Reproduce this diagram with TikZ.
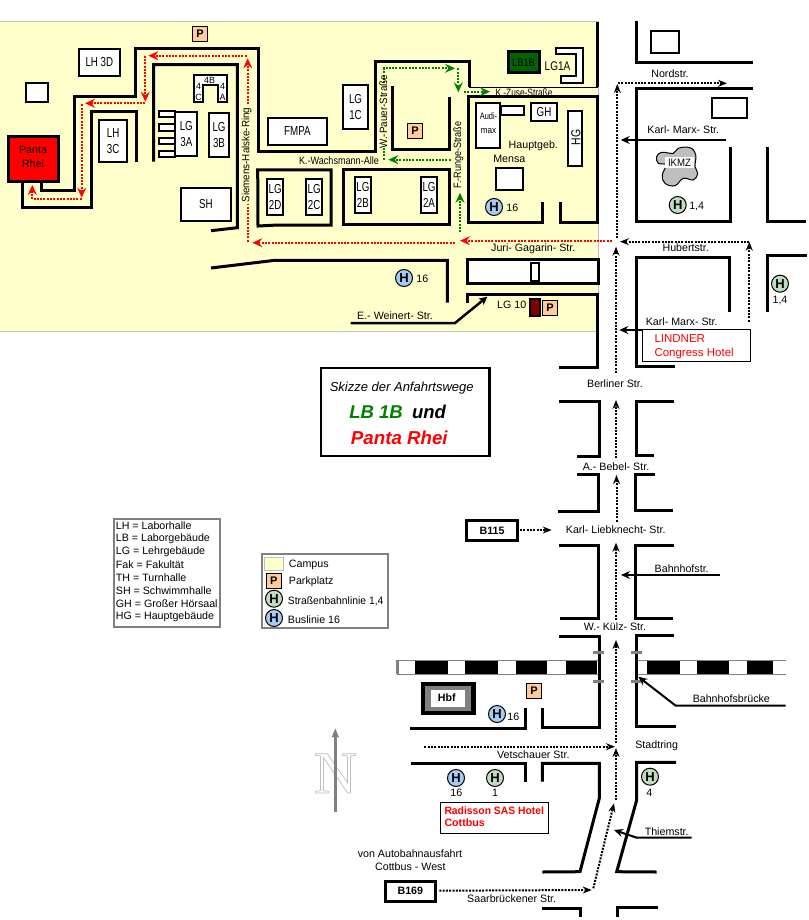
\documentclass[tikz,border=0pt]{standalone}
\usepackage{fontspec}
\usepackage{graphicx}
\setmainfont{Liberation Sans}
\newfontfamily\northfont{Liberation Serif}
\usetikzlibrary{arrows.meta}
\definecolor{campus}{HTML}{FFFFCC}
\definecolor{parkc}{HTML}{FFCC99}
\definecolor{tramc}{HTML}{C0DCC0}
\definecolor{busc}{HTML}{A6CAF0}
\definecolor{lbgreen}{HTML}{006400}
\definecolor{legendgrey}{HTML}{808080}
\definecolor{routegreen}{HTML}{008000}
\newcommand{\cnd}[2]{\scalebox{#1}[1]{#2}}
\newcommand{\upt}[2]{\rotatebox{90}{\scalebox{#1}[1]{#2}}}
\newcommand{\bldg}[6]{\draw[bldgline] ({#2+1},{#3+1}) rectangle ({#4-1},{#5-1}) node[midway,talltext] (#1) {#6};}
\tikzset{
  txt/.style={font=\fontsize{10.67}{13}\selectfont,inner sep=0pt},
  talltext/.style={font=\fontsize{13}{16}\selectfont,inner sep=0pt,align=center,xscale=.75,transform shape},
  road/.style={line width=3pt,draw=black,miter limit=10},
  bldgline/.style={line width=2pt,draw=black,fill=white},
  thinarrow/.style={line width=2pt,draw=black,-{Stealth[length=9pt,width=8pt,inset=3pt]}},
  redroute/.style={line width=2pt,draw=red,dash pattern=on 2pt off 1.3pt,-{Stealth[length=10pt,width=9pt,inset=3.5pt]}},
  greenroute/.style={line width=2pt,draw=routegreen,dash pattern=on 2pt off 1.3pt,-{Stealth[length=10pt,width=9pt,inset=3.5pt]}},
  blackroute/.style={line width=2pt,draw=black,dash pattern=on 2pt off 1.3pt,-{Stealth[length=9pt,width=7pt,inset=3pt]}},
  parkbox/.style={draw=black,line width=1pt,fill=parkc,minimum size=15pt,inner sep=0pt,font=\fontsize{11}{11}\selectfont\bfseries},
  tramstop/.style={circle,draw=black,line width=1pt,fill=tramc,minimum size=17pt,inner sep=0pt,font=\fontsize{13}{13}\selectfont\bfseries},
  busstop/.style={circle,draw=black,line width=1pt,fill=busc,minimum size=17pt,inner sep=0pt,font=\fontsize{13}{13}\selectfont\bfseries},
  legendbox/.style={draw=legendgrey,line width=2pt,fill=white},
  roadsign/.style={draw=black,line width=3pt,fill=white,inner sep=0pt,font=\fontsize{10.67}{13}\selectfont\bfseries},
  hotelbox/.style={draw=black,line width=1pt,fill=white},
  tick/.style={line width=2.5pt,draw=legendgrey}
}
\begin{document}
\begin{tikzpicture}[x=1pt,y=-1pt,every node/.append style={txt}]
\useasboundingbox (0,0) rectangle (808,920);
\fill[white] (0,0) rectangle (808,920);
% campus
\draw[draw=black!25,line width=1pt,fill=campus] (-2,22) rectangle (598,331);
% ---- campus roads
\draw[road] (22.7,183) -- (22.7,207) -- (91.7,207) -- (91.7,111.7) -- (136,111.7) -- (136,161.7);
\draw[road] (41.7,183) -- (41.7,190) -- (74.3,190) -- (74.3,96.3) -- (135.7,96.3) -- (135.7,48.3) -- (258.3,48.3) -- (258.3,152) -- (375,152) -- (375,62) -- (469,62) -- (469,87);
\draw[line width=1pt] (469,87.3) -- (598,87.3);
\draw[road] (153.7,161.7) -- (153.7,64.7) -- (237.3,64.7) -- (237.3,227.7) -- (211,230.7);
\draw[road] (392.3,86) -- (392.3,150) -- (449,150) -- (449,97);
\draw[road] (257.7,170) -- (331,170) -- (331,225) -- (278,225) -- (258,226) -- cycle;
\draw[road] (343,170) rectangle (449,224);
\draw[road] (597.7,22) -- (597.7,87);
\draw[road] (542,202.3) -- (542,222.3) -- (468.3,222.3) -- (468.3,96.7) -- (597.7,96.7) -- (597.7,222.3) -- (560,222.3) -- (560,202.3);
\draw[road] (211,268) -- (275,260.3) -- (447.3,260.3) -- (447.3,302.7);
\draw[road,fill=white] (467,259.3) rectangle (598,283.3);
\draw[line width=2pt,fill=white] (531,262.5) rectangle (539,280.5);
\draw[road] (467.7,302.7) -- (467.7,294) -- (597.3,294) -- (597.3,367.3) -- (559.3,367.3);
% ---- buildings
\draw[line width=3pt,fill=red] (8.5,136.5) rectangle (58,182);
\node[align=center,font=\fontsize{10.67}{14}\selectfont] (panta) at (33,157) {Panta\\Rhei};
\bldg{lh3d}{77.7}{47.7}{121}{77}{LH 3D}
\draw[bldgline] (26,82.7) rectangle (48.3,102.3);
\bldg{lh3c}{98}{118.7}{128.3}{163}{LH\\3C}
\foreach \a/\b in {111/116.7,124.3/131,137.7/144,150.7/156.7}{\draw[bldgline] (158.7,\a) rectangle (175,\b);}
\bldg{lg3a}{174.3}{111}{198.3}{157.3}{LG\\3A}
\bldg{lg3b}{208}{112}{230}{158.3}{LG\\3B}
\draw[bldgline] (193.7,75.3) -- (227.3,75.3) -- (227.3,102.3) -- (218.3,102.3) -- (218.3,85) -- (203.3,85) -- (203.3,102.3) -- (193.7,102.3) -- cycle;
\node[font=\fontsize{9}{9}\selectfont] (b4b) at (209.7,80) {4B};
\node[font=\fontsize{9}{9}\selectfont] (b4c) at (198.5,86.5) {4};
\node[font=\fontsize{9}{9}\selectfont] (b4cc) at (198.5,97) {C};
\node[font=\fontsize{9}{9}\selectfont] (b4a) at (222.5,86.5) {4};
\node[font=\fontsize{9}{9}\selectfont] (b4aa) at (222.5,97) {A};
\bldg{sh}{180}{187}{232}{221.7}{SH}
\bldg{fmpa}{266.7}{117}{328}{145.7}{FMPA}
\bldg{lg1c}{341.7}{84}{369.3}{130}{LG\\1C}
\bldg{lg2d}{266}{178}{284.3}{216}{LG\\2D}
\bldg{lg2c}{305}{178}{323.3}{216}{LG\\2C}
\bldg{lg2b}{353.7}{176}{372}{214}{LG\\2B}
\bldg{lg2a}{419.7}{176}{438.3}{214}{LG\\2A}
\draw[line width=3pt,draw=black,fill=lbgreen] (508,51.5) rectangle (539,72.5);
\node[font=\fontsize{11}{11}\selectfont] (lb1b) at (523.5,62.5) {\cnd{.85}{LB1B}};
\draw[bldgline] (556,47.7) -- (583,47.7) -- (583,83) -- (561,83) -- (561,76) -- (575.7,76) -- (575.7,54.3) -- (556,54.3) -- cycle;
\node[font=\fontsize{12.5}{13}\selectfont] (lg1a) at (557.5,65.7) {\cnd{.8}{LG1A}};
\draw[bldgline] (501,106) rectangle (524,115);
\draw[bldgline] (476,103.3) rectangle (500,148);
\node[align=center,font=\fontsize{9.5}{14.5}\selectfont] (audimax) at (488.5,123) {\cnd{.78}{Audi-}\\\cnd{.85}{max}};
\bldg{gh}{530}{102}{558}{121.7}{GH}
\draw[bldgline] (568,111) rectangle (582.3,166);
\node (hg) at (576,137.7) {\upt{.8}{\fontsize{13}{13}\selectfont HG}};
\draw[bldgline] (496,168) rectangle (523,189.7);
\node (hauptgeb) at (533.3,145.3) {Hauptgeb.};
\node (mensa) at (509.3,159) {Mensa};
\bldg{ikmzb}{650}{30}{680}{53.7}{}
\bldg{boxb}{710.7}{97}{748}{119}{}
% ---- right blocks
\draw[road] (636,21) -- (636,62.3) -- (753.3,62.3);
\draw[road] (753.3,88.3) -- (636,88.3) -- (636,221) -- (730.7,221) -- (730.7,146.7);
\draw[road] (767.7,147.3) -- (767.7,221) -- (806,221);
\draw[road] (806.7,255.7) -- (767.7,255.7) -- (767.7,311.7);
\draw[road] (729.3,312.3) -- (729.3,257.7) -- (636,257.7) -- (636,366) -- (674.7,366);
\draw[line width=1pt,fill=black!25] plot[smooth cycle,tension=.7] coordinates {(656.7,156.7) (661.7,152.3) (673.3,153.3) (678.3,148.3) (690,147.7) (695.7,155) (695,166.7) (697.7,173.3) (693.3,180) (683.3,178.3) (675,185.7) (665,183.3) (662.3,175) (666,165) (658.3,163.3)};
\node[fill=white,minimum width=29pt,minimum height=11pt] (ikmz) at (679.5,163) {\cnd{.9}{IKMZ}};
% ---- lower blocks
\draw[road] (559,401) -- (599,401) -- (599,456.7) -- (577.3,456.7);
\draw[road] (674,401) -- (636,401) -- (636,455.3) -- (654,455.3);
\draw[road] (577.3,474) -- (598.3,474) -- (598.3,511.3) -- (558.3,511.3);
\draw[road] (655,474) -- (635.3,474) -- (635.3,510.3) -- (673,510.3);
\draw[road] (559,545.3) -- (598.3,545.3) -- (598.3,618.3) -- (560,618.3);
\draw[road] (674,545) -- (635.3,545) -- (635.3,618.3) -- (673,618.3);
% railway
\draw[draw=legendgrey,line width=1pt,fill=white] (397,660) rectangle (598,674);
\draw[draw=legendgrey,line width=1pt] (637,660) -- (786,660);
\draw[draw=legendgrey,line width=1pt] (637,674) -- (786,674);
\fill[legendgrey] (396,660) rectangle (399,674);
\foreach \a/\b in {415/448.3,465/498.3,516/547.3,566/597}{\fill[black] (\a,660.5) rectangle (\b,673.5);}
\foreach \a/\b in {646.7/680,696.7/729.3,746.7/773.3}{\fill[black] (\a,660.5) rectangle (\b,673.5);}
\draw[road] (559.3,636.7) -- (599,636.7) -- (599,727.7) -- (542.3,727.7) -- (542.3,707.7);
\draw[road] (674,635.7) -- (636.7,635.7) -- (636.7,726.3) -- (675.7,726.3);
\draw[tick] (593.3,652.3) -- (604,652.3);
\draw[tick] (593.3,681.3) -- (604,681.3);
\draw[tick] (631,652.3) -- (641.7,652.3);
\draw[tick] (631,681.3) -- (641.7,681.3);
\draw[road] (410,728.3) -- (525.7,728.3) -- (525.7,708.3);
\draw[road] (411,763.3) -- (525,763.3) -- (525,781.7);
\draw[road] (542.3,781.7) -- (542.3,763.3) -- (599.3,763.3) -- (599.3,798.3) -- (580,871.7) -- (542.3,872);
\draw[road] (676,762.3) -- (636.7,762.3) -- (636.7,800) -- (616.7,871.7) -- (656.7,872);
\draw[road] (541.7,908) -- (580.7,908) -- (580.7,917);
\draw[road] (617.3,917) -- (617.3,907.3) -- (657.7,907.3);
% Hbf
\draw[line width=4.5pt,draw=black,fill=legendgrey] (423,684) rectangle (473.5,713);
\fill[white] (431,690) rectangle (465,706.7);
\node[font=\fontsize{10.67}{13}\selectfont\bfseries] (hbf) at (446.7,698) {Hbf};
% ---- solid arrows
\draw[line width=2.5pt,-{Stealth[length=8pt,width=8pt,inset=2pt]}] (350.7,323) -- (455,323) -- (487.3,296.7);
\draw[thinarrow] (726,140) -- (620.7,140);
\draw[thinarrow] (721.7,330) -- (619.3,330);
\draw[thinarrow] (720,575) -- (621,575);
\draw[thinarrow] (785.7,705.7) -- (675.7,705.7) -- (638.3,676.7);
\draw[thinarrow] (691.7,837.7) -- (636.7,837.7) -- (614,830);
% ---- red route
\draw[redroute] (612,240.7) -- (460,240.7);
\draw[redroute] (455,242.7) -- (252.3,242.7);
\draw[line width=2pt,draw=red,dash pattern=on 2pt off 1.3pt] (247.7,241.7) -- (247.7,204.3);
\draw[redroute] (247.7,104.3) -- (247.7,58.3);
\draw[redroute] (246.7,55.7) -- (148.3,55.7);
\draw[redroute] (145.3,55.7) -- (145.3,101.7);
\draw[redroute] (145.3,103.3) -- (85,103.3);
\draw[redroute] (81.7,104.3) -- (81.7,197.7);
\draw[redroute] (81.7,199.3) -- (32.3,199.3) -- (32.3,185);
% ---- green route
\draw[greenroute] (460,232.3) -- (460,192.7);
\draw[greenroute] (450.7,159.7) -- (388.3,159.7);
\draw[line width=2pt,draw=routegreen,dash pattern=on 2pt off 1.3pt] (384,159.7) -- (384,146.7);
\draw[greenroute] (384,83.3) -- (384,68.3) -- (455,68.3);
\draw[greenroute] (458.3,68.3) -- (458.3,92.3);
\draw[greenroute] (464,91.7) -- (490,91.7);
% ---- black routes
\draw[blackroute] (616,373) -- (616,246.7);
\draw[blackroute] (749.3,321.7) -- (749.3,241.7);
\draw[blackroute] (749.3,241.7) -- (620,241.7);
\draw[blackroute] (617.3,238) -- (617.3,84);
\draw[blackroute] (618,83.3) -- (727,83.3);
\draw[blackroute] (616,458.3) -- (616,400);
\draw[blackroute] (616.5,521.7) -- (616.5,475);
\draw[blackroute] (616,620) -- (616,542.7);
\draw[blackroute] (616,743.3) -- (616,640);
\draw[blackroute] (616,800) -- (616,748);
\draw[blackroute] (593.3,888.3) -- (614,803.3);
\draw[blackroute] (439.3,890.7) -- (591.7,890);
\draw[blackroute] (424.3,746.7) -- (615,746.7);
\draw[blackroute] (520,530) -- (551.7,530);
% ---- street labels
\node (siemens) at (246.7,155) {\upt{.92}{Siemens-Halske-Ring}};
\node (pauer) at (383.3,111.7) {\upt{.92}{W.-Pauer-Straße}};
\node (runge) at (458.3,155) {\upt{.85}{F.-Runge-Straße}};
\node (zuse) at (524,92.7) {\cnd{.78}{K.-Zuse-Straße}};
\node (wachs) at (339,161) {\cnd{.85}{K.-Wachsmann-Alle}};
\node (juri) at (533.3,248.3) {Juri- Gagarin- Str.};
\node (weinert) at (395,315.3) {E.- Weinert- Str.};
\node (lg10) at (511.7,305) {LG 10};
\draw[line width=2pt,fill=black!50!red] (529.7,298.7) rectangle (539.7,316.3);
\node (nord) at (670,73.3) {Nordstr.};
\node (kmarx1) at (683.3,130) {Karl- Marx- Str.};
\node (huber) at (685.7,248) {Hubertstr.};
\node (kmarx2) at (681.7,322) {Karl- Marx- Str.};
\node (berliner) at (615,384) {Berliner Str.};
\node (bebel) at (616,466.7) {A.- Bebel- Str.};
\node (liebk) at (615.7,530) {Karl- Liebknecht- Str.};
\node (bahnhofstr) at (681.7,568.3) {Bahnhofstr.};
\node (kuelz) at (615,627) {W.- Külz- Str.};
\node (bruecke) at (731.3,698.3) {Bahnhofsbrücke};
\node (stadtring) at (656.7,745.3) {Stadtring};
\node (vetsch) at (533.3,754.3) {Vetschauer Str.};
\node (thiem) at (666.7,831.3) {Thiemstr.};
\node (saar) at (511.7,898.3) {Saarbrückener Str.};
\node (vonab) at (410,853.3) {von Autobahnausfahrt};
\node (cbwest) at (410.3,867) {Cottbus - West};
% ---- stops and parking
\node[parkbox] (p1) at (200,33.7) {P};
\node[parkbox] (p2) at (415,130.7) {P};
\node[parkbox] (p3) at (550,308) {P};
\node[parkbox] (p4) at (534,690.7) {P};
\node[busstop] (h1) at (494,207) {H};
\node (h1t) at (512.3,207.7) {16};
\node[busstop] (h2) at (404,278) {H};
\node (h2t) at (422.3,279.3) {16};
\node[tramstop] (h3) at (677.7,205) {H};
\node (h3t) at (696.7,207) {1,4};
\node[tramstop] (h4) at (780,283.7) {H};
\node (h4t) at (780,301) {1,4};
\node[busstop] (h5) at (497,714) {H};
\node (h5t) at (513.3,717.3) {16};
\node[busstop] (h6) at (456,778) {H};
\node (h6t) at (456.3,793) {16};
\node[tramstop] (h7) at (495,778) {H};
\node (h7t) at (495,793) {1};
\node[tramstop] (h8) at (650,776.7) {H};
\node (h8t) at (649.3,793) {4};
% ---- hotels
\draw[hotelbox] (642,329.5) rectangle (750.5,361.5);
\node[anchor=west,text=red,font=\fontsize{11.5}{13}\selectfont] (lindner1) at (654.3,338.7) {LINDNER};
\node[anchor=west,text=red,font=\fontsize{11.5}{13}\selectfont] (lindner2) at (654.3,353.7) {Congress Hotel};
\draw[hotelbox] (440,802) rectangle (548,833);
\node[anchor=west,text=red,font=\fontsize{10.67}{13}\selectfont\bfseries] (rad1) at (444.3,810.7) {\cnd{.97}{Radisson SAS Hotel}};
\node[anchor=west,text=red,font=\fontsize{10.67}{13}\selectfont\bfseries] (rad2) at (444.3,822.3) {Cottbus};
% ---- road signs
\node[roadsign,minimum width=51pt,minimum height=20pt] (b115) at (492,530.5) {B115};
\node[roadsign,minimum width=49.7pt,minimum height=19.7pt] (b169) at (410.3,891.3) {B169};
% ---- title box
\draw[line width=2.2pt,fill=white] (321,367.7) rectangle (489.5,456);
\node[font=\fontsize{13}{14}\selectfont\itshape] (title) at (401.7,388.3) {Skizze der Anfahrtswege};
\node[font=\fontsize{18.5}{20}\selectfont\bfseries\itshape,text=routegreen] (tlb) at (376,411.7) {LB 1B};
\node[font=\fontsize{18.5}{20}\selectfont\bfseries\itshape] (tund) at (429,411.7) {und};
\node[font=\fontsize{18.7}{20}\selectfont\bfseries\itshape,text=red] (tpr) at (399.3,438) {Panta Rhei};
% ---- legends
\draw[legendbox] (113.5,519) rectangle (219.5,626.5);
\foreach \n/\yy/\t in {a/526/LH = Laborhalle,b/539/LB = Laborgebäude,c/552/LG = Lehrgebäude,d/565/Fak = Fakultät,e/578/TH =  Turnhalle,f/591/SH = Schwimmhalle,g/604/GH = Großer Hörsaal,h/617/HG = Hauptgebäude}{\node[anchor=west] (leg\n) at (115.7,\yy) {\t};}
\draw[legendbox] (262,554) rectangle (387.5,627.5);
\draw[draw=black!25,line width=1pt,fill=campus] (264.8,557.2) rectangle (283.2,570.2);
\node[parkbox] (legp) at (273.7,581) {P};
\node[tramstop] (legt) at (274,598.7) {H};
\node[busstop] (legb) at (274,618) {H};
\node[anchor=west] (lega1) at (288.7,565) {Campus};
\node[anchor=west] (lega2) at (288.7,582) {Parkplatz};
\node[anchor=west] (lega3) at (287.7,601) {\cnd{.97}{Straßenbahnlinie 1,4}};
\node[anchor=west] (lega4) at (287.7,620) {Buslinie 16};
% ---- north
\node[text=black!25,font=\fontsize{60}{60}\northfont\selectfont] (north) at (335.3,773.3) {\special{pdf:code 1 Tr 0.7 w}N\special{pdf:code 0 Tr}};
\draw[line width=2.5pt,draw=legendgrey,-{Stealth[length=9pt,width=7pt,inset=1pt]}] (335.3,811.7) -- (335.3,728.3);
\end{tikzpicture}
\end{document}
